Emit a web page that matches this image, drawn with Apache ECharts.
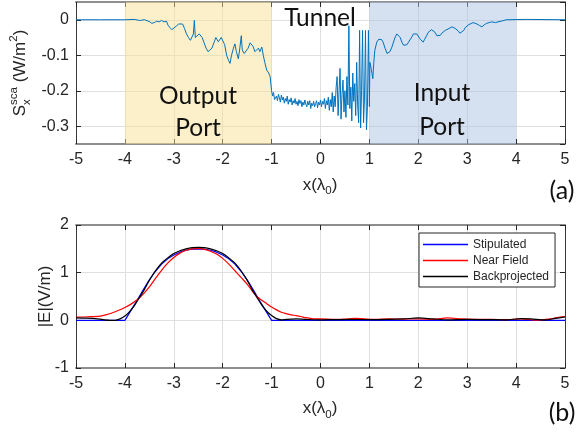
<!DOCTYPE html>
<html><head><meta charset="utf-8">
<script src="https://cdn.jsdelivr.net/npm/echarts@6/dist/echarts.min.js"></script>
<style>html,body{margin:0;padding:0;background:#fff}#c{width:578px;height:433px}</style>
</head><body><div id="c"></div>
<script>
// ---------- DATA ----------
const xTicks = [-5,-4,-3,-2,-1,0,1,2,3,4,5];
const topYTicks = [-0.3,-0.2,-0.1,0];
const botYTicks = [-1,0,1,2];
const outputPort = [-4,-1];
const inputPort = [1,4];

const sxX = [
-5,-4.5,-4,-3.8,-3.7,-3.6,-3.5,-3.45,-3.4,-3.35,-3.3,-3.25,-3.22,-3.2,-3.15,-3.12,-3.08,-3.04,-3.0,-2.95,-2.9,-2.86,-2.82,-2.78,-2.74,-2.7,-2.66,-2.63,-2.6,-2.58,-2.56,-2.52,-2.48,-2.45,-2.42,-2.38,-2.34,-2.3,-2.26,-2.22,-2.18,-2.14,-2.12,-2.09,-2.06,-2.03,-1.99,-1.96,-1.92,-1.88,-1.85,-1.82,-1.78,-1.75,-1.72,-1.68,-1.65,-1.62,-1.6,-1.56,-1.52,-1.48,-1.44,-1.41,-1.38,-1.34,-1.3,-1.27,-1.24,-1.2,-1.17,-1.14,-1.1,-1.06,-1.03,-1.01,-1.0,
-0.98,-0.96,-0.94,-0.92,-0.90,-0.88,-0.86,-0.84,-0.82,-0.80,-0.78,-0.76,-0.74,-0.72,-0.70,-0.68,-0.66,-0.64,-0.62,-0.60,-0.58,-0.56,-0.54,-0.52,-0.50,-0.48,-0.46,-0.44,-0.42,-0.40,-0.38,-0.36,-0.34,-0.32,-0.30,-0.28,-0.26,-0.24,-0.22,-0.20,-0.18,-0.16,-0.14,-0.12,-0.10,-0.08,-0.06,-0.04,-0.02,0.00,
0.02,0.04,0.06,0.08,0.10,0.12,0.14,0.16,0.18,0.20,0.22,0.24,0.26,0.28,0.30,0.32,0.34,0.36,0.38,0.40,0.42,0.44,0.46,0.48,0.50,0.52,0.54,0.56,0.58,0.60,0.62,0.64,0.66,0.68,0.70,0.72,0.74,0.76,0.78,0.80,0.82,0.84,0.86,0.88,0.90,0.92,0.94,0.96,0.98,1.00,
1.01,1.04,1.07,1.09,1.11,1.15,1.19,1.22,1.25,1.28,1.32,1.36,1.39,1.42,1.46,1.5,1.53,1.56,1.6,1.63,1.67,1.7,1.73,1.77,1.8,1.83,1.87,1.9,1.93,1.97,2.0,2.04,2.07,2.1,2.13,2.17,2.2,2.24,2.27,2.31,2.34,2.38,2.41,2.45,2.48,2.51,2.55,2.58,2.61,2.65,2.69,2.72,2.75,2.78,2.82,2.85,2.89,2.93,2.96,2.99,3.03,3.07,3.12,3.16,3.2,3.25,3.3,3.35,3.4,3.45,3.5,3.53,3.58,3.63,3.67,3.72,3.76,3.8,4.2,5
];
const sxY = [
0,0,0,0.001,-0.002,0,-0.005,-0.01,-0.008,-0.004,-0.006,-0.002,0,-0.006,-0.004,-0.015,-0.022,-0.028,-0.025,-0.018,-0.012,-0.008,-0.012,-0.025,-0.04,-0.05,-0.058,-0.063,-0.04,-0.002,-0.05,-0.045,-0.04,-0.035,-0.05,-0.065,-0.08,-0.09,-0.094,-0.08,-0.065,-0.05,-0.048,-0.062,-0.06,-0.05,-0.048,-0.07,-0.1,-0.115,-0.123,-0.1,-0.08,-0.068,-0.09,-0.11,-0.08,-0.045,-0.085,-0.095,-0.1,-0.08,-0.065,-0.063,-0.075,-0.09,-0.087,-0.08,-0.09,-0.077,-0.1,-0.12,-0.142,-0.15,-0.16,-0.165,-0.2,
-0.215,-0.205,-0.225,-0.23,-0.215,-0.228,-0.21,-0.22,-0.232,-0.212,-0.226,-0.218,-0.235,-0.222,-0.23,-0.215,-0.238,-0.225,-0.232,-0.22,-0.24,-0.228,-0.235,-0.222,-0.238,-0.23,-0.242,-0.225,-0.236,-0.228,-0.245,-0.232,-0.24,-0.226,-0.238,-0.245,-0.23,-0.24,-0.228,-0.25,-0.235,-0.242,-0.23,-0.245,-0.236,-0.228,-0.248,-0.232,-0.24,-0.226,
-0.245,-0.23,-0.238,-0.222,-0.25,-0.228,-0.24,-0.218,-0.255,-0.225,-0.245,-0.205,-0.26,-0.215,-0.245,-0.19,-0.16,-0.27,-0.2,-0.137,-0.28,-0.21,-0.17,-0.26,-0.2,-0.275,-0.16,-0.24,-0.017,-0.25,-0.19,-0.285,-0.15,-0.23,-0.18,-0.27,-0.12,-0.24,-0.29,-0.03,-0.305,-0.2,-0.03,-0.29,-0.22,-0.03,-0.31,-0.245,-0.03,-0.245,
-0.12,-0.14,-0.166,-0.12,-0.087,-0.063,-0.055,-0.05,-0.056,-0.063,-0.08,-0.095,-0.1,-0.09,-0.077,-0.06,-0.048,-0.04,-0.045,-0.05,-0.065,-0.072,-0.077,-0.07,-0.063,-0.059,-0.048,-0.04,-0.035,-0.04,-0.045,-0.055,-0.06,-0.063,-0.055,-0.045,-0.036,-0.032,-0.028,-0.026,-0.035,-0.045,-0.05,-0.044,-0.038,-0.035,-0.03,-0.027,-0.026,-0.022,-0.02,-0.02,-0.024,-0.026,-0.032,-0.038,-0.04,-0.03,-0.022,-0.017,-0.014,-0.011,-0.008,-0.003,-0.012,-0.016,-0.02,-0.014,-0.01,-0.008,-0.006,-0.005,-0.008,-0.006,-0.007,-0.003,-0.002,0,0.001,0
];

const stipX = [-5,-4,-3.875,-3.75,-3.625,-3.5,-3.375,-3.25,-3.125,-3,-2.875,-2.75,-2.625,-2.5,-2.375,-2.25,-2.125,-2,-1.875,-1.75,-1.625,-1.5,-1.375,-1.25,-1.125,-1,5];
const stipY = [0,0,0.21,0.42,0.64,0.85,1.03,1.18,1.29,1.37,1.43,1.47,1.495,1.5,1.495,1.47,1.43,1.37,1.29,1.18,1.03,0.85,0.64,0.42,0.21,0,0];

const nearX = [-5,-4.75,-4.5,-4.375,-4.25,-4.125,-4,-3.875,-3.75,-3.625,-3.5,-3.375,-3.25,-3.125,-3,-2.875,-2.75,-2.625,-2.5,-2.375,-2.25,-2.125,-2,-1.875,-1.75,-1.625,-1.5,-1.4,-1.3,-1.2,-1.1,-1,-0.9,-0.8,-0.7,-0.6,-0.5,-0.4,-0.3,-0.2,-0.1,0,0.3,0.5,0.7,0.9,1.1,1.4,1.7,2,2.3,2.6,2.9,3.2,3.5,3.8,4.1,4.4,4.7,4.9,5];
const nearY = [0.07,0.075,0.09,0.12,0.16,0.21,0.27,0.34,0.43,0.55,0.7,0.88,1.05,1.2,1.32,1.41,1.47,1.5,1.51,1.49,1.45,1.39,1.3,1.18,1.04,0.9,0.76,0.62,0.5,0.42,0.35,0.28,0.22,0.17,0.14,0.115,0.1,0.08,0.055,0.04,0.03,0.03,0.02,0.025,0.04,0.03,0.02,0.03,0.025,0.03,0.02,0.05,0.03,0.02,0.02,0.015,0.03,0.005,0.03,0.07,0.08];

const backX = [-5,-4.8,-4.6,-4.45,-4.3,-4.2,-4.1,-4,-3.9,-3.8,-3.7,-3.6,-3.5,-3.375,-3.25,-3.125,-3,-2.875,-2.75,-2.625,-2.5,-2.375,-2.25,-2.125,-2,-1.875,-1.75,-1.625,-1.5,-1.4,-1.3,-1.2,-1.1,-1,-0.9,-0.8,-0.7,-0.5,-0.3,0,0.3,0.6,1,1.4,1.7,2,2.3,2.6,3,3.4,3.8,4.1,4.3,4.6,4.8,5];
const backY = [0.05,0.045,0.035,0.015,0,0,0.03,0.09,0.19,0.32,0.48,0.65,0.84,1.04,1.2,1.31,1.4,1.46,1.5,1.525,1.53,1.525,1.5,1.46,1.4,1.31,1.2,1.04,0.84,0.65,0.48,0.32,0.19,0.1,0.035,0.01,0.02,0.03,0.02,0.01,0.015,0.02,0.015,0.02,0.03,0.05,0.03,0.01,0.02,0.015,0.01,0.035,0.03,0.01,0.04,0.07];

const zip = (xs, ys) => xs.map((x, i) => [x, ys[i]]);

// ---------- LAYOUT / STYLE ----------
const AX = '"Liberation Sans", Arial, Helvetica, sans-serif';
const ANN = 'Lato, "Open Sans", sans-serif';
const TXT = '#262626';
const GRIDC = '#dfdfdf';

function xAxisDef(gi, pos) {
  const bottom = pos === 'bottom';
  return {
    type: 'value', gridIndex: gi, position: pos, min: -5, max: 5, interval: 1,
    axisLine: { show: true, onZero: false, lineStyle: { color: '#8e8e8e', width: 2 } },
    axisTick: { show: true, inside: true, length: 5, lineStyle: { color: TXT, width: 1 } },
    axisLabel: { show: bottom, margin: 8, color: TXT, fontFamily: AX, fontSize: 16,
      formatter: v => xTicks.includes(v) ? String(v) : '' },
    splitLine: { show: bottom, lineStyle: { color: GRIDC, width: 1 } }
  };
}
function yAxisDef(gi, pos, which) {
  const left = pos === 'left';
  const base = {
    type: 'value', gridIndex: gi, position: pos,
    axisLine: { show: true, onZero: false, lineStyle: { color: '#3a3a3a', width: 1 } },
    axisTick: { show: true, inside: true, length: 5, lineStyle: { color: TXT, width: 1 } },
    axisLabel: { show: left, margin: 7, color: TXT, fontFamily: AX, fontSize: 16 },
    splitLine: { show: left, lineStyle: { color: GRIDC, width: 1 } }
  };
  if (which === 'top') {
    Object.assign(base, { min: -0.35, max: 0.05, splitNumber: 4 });
    base.axisLabel.showMinLabel = false; base.axisLabel.showMaxLabel = false;
    base.axisLabel.formatter = v => { const r = Math.round(v * 100) / 100; return topYTicks.includes(r) ? String(r) : ''; };
  } else {
    Object.assign(base, { min: botYTicks[0], max: botYTicks[botYTicks.length - 1], interval: 1 });
  }
  return base;
}

// text measurement for composite labels
const mctx = document.createElement('canvas').getContext('2d');
function tw(t, font) { mctx.font = font; return mctx.measureText(t).width; }
function compositeLabel(cx, cy, rot, pieces) {
  let cur = 0, lastStart = 0;
  const items = [];
  pieces.forEach(p => {
    const font = p.s + 'px ' + AX;
    const w = tw(p.t, font);
    const start = p.stack ? lastStart : cur;
    const end = start + w;
    cur = p.stack ? Math.max(cur, end) : end;
    lastStart = start;
    items.push({ t: p.t, font, x: start, dy: p.dy || 0 });
  });
  const W = cur;
  return {
    type: 'group', x: cx, y: cy, rotation: rot, silent: true,
    children: items.map(it => ({
      type: 'text', x: it.x - W / 2, y: it.dy,
      style: { text: it.t, font: it.font, fill: TXT, textAlign: 'left', textVerticalAlign: 'middle', align: 'left', verticalAlign: 'middle' }
    }))
  };
}
function annText(x, y, t, size) {
  return { type: 'text', x, y, silent: true, z: 50,
    style: { text: t, font: size + 'px ' + ANN, fill: '#111', textAlign: 'center', textVerticalAlign: 'middle', align: 'center', verticalAlign: 'middle' } };
}

const chart = echarts.init(document.getElementById('c'), null, { renderer: 'canvas' });
chart.setOption({
  backgroundColor: '#ffffff',
  animation: false,
  grid: [
    { left: 76, top: 2, width: 489, height: 142 },
    { left: 76, top: 225, width: 489, height: 143 }
  ],
  xAxis: [xAxisDef(0, 'bottom'), xAxisDef(0, 'top'), xAxisDef(1, 'bottom'), xAxisDef(1, 'top')],
  yAxis: [yAxisDef(0, 'left', 'top'), yAxisDef(0, 'right', 'top'), yAxisDef(1, 'left', 'bot'), yAxisDef(1, 'right', 'bot')],
  legend: {
    data: ['Stipulated', 'Near Field', 'Backprojected'],
    orient: 'vertical', left: 419, top: 233,
    icon: 'rect', itemWidth: 45, itemHeight: 1.6, itemGap: 3,
    padding: [5, 6, 4, 4],
    backgroundColor: '#ffffff', borderColor: TXT, borderWidth: 1, borderRadius: 0,
    textStyle: { fontFamily: AX, fontSize: 12, color: TXT, lineHeight: 13 }
  },
  series: [
    { type: 'line', name: 'ports', xAxisIndex: 0, yAxisIndex: 0, data: [], z: 1, silent: true,
      markArea: { silent: true, data: [
        [{ xAxis: outputPort[0], itemStyle: { color: 'rgba(250,225,150,0.5)' } }, { xAxis: outputPort[1] }],
        [{ xAxis: inputPort[0], itemStyle: { color: 'rgba(172,193,226,0.5)' } }, { xAxis: inputPort[1] }]
      ] } },
    { type: 'line', name: 'Sx', xAxisIndex: 0, yAxisIndex: 0, data: zip(sxX, sxY), z: 3,
      symbol: 'none', lineStyle: { color: '#0072BD', width: 1 }, itemStyle: { color: '#0072BD' } },
    { type: 'line', name: 'Stipulated', xAxisIndex: 2, yAxisIndex: 2, data: zip(stipX, stipY), z: 3,
      symbol: 'none', lineStyle: { color: '#0000ff', width: 1.2 }, itemStyle: { color: '#0000ff' } },
    { type: 'line', name: 'Near Field', xAxisIndex: 2, yAxisIndex: 2, data: zip(nearX, nearY), z: 4, smooth: 0.3,
      symbol: 'none', lineStyle: { color: '#ff0000', width: 1.2 }, itemStyle: { color: '#ff0000' } },
    { type: 'line', name: 'Backprojected', xAxisIndex: 2, yAxisIndex: 2, data: zip(backX, backY), z: 5, smooth: 0.3,
      symbol: 'none', lineStyle: { color: '#000000', width: 1.2 }, itemStyle: { color: '#000000' } }
  ],
  graphic: [
    annText(198, 96.5, 'Output', 24.5),
    annText(198, 128.5, 'Port', 24.5),
    annText(320, 18.5, 'Tunnel', 24.5),
    annText(442, 93.5, 'Input', 24.5),
    annText(442, 127.5, 'Port', 24.5),
    annText(562, 191, '(a)', 25),
    annText(562, 413, '(b)', 25),
    compositeLabel(20, 73, Math.PI / 2, [
      { t: 'S', s: 17 }, { t: 'sca', s: 11.5, dy: -6 }, { t: 'x', s: 11.5, dy: 7, stack: true },
      { t: ' (W/m', s: 17 }, { t: '2', s: 11.5, dy: -6 }, { t: ')', s: 17 }
    ]),
    compositeLabel(45, 296.5, Math.PI / 2, [{ t: '|E|(V/m)', s: 17 }]),
    compositeLabel(320, 185, 0, [{ t: 'x(λ', s: 17 }, { t: '0', s: 11.5, dy: 6 }, { t: ')', s: 17 }]),
    compositeLabel(320, 408.5, 0, [{ t: 'x(λ', s: 17 }, { t: '0', s: 11.5, dy: 6 }, { t: ')', s: 17 }])
  ]
});
</script>
</body></html>
